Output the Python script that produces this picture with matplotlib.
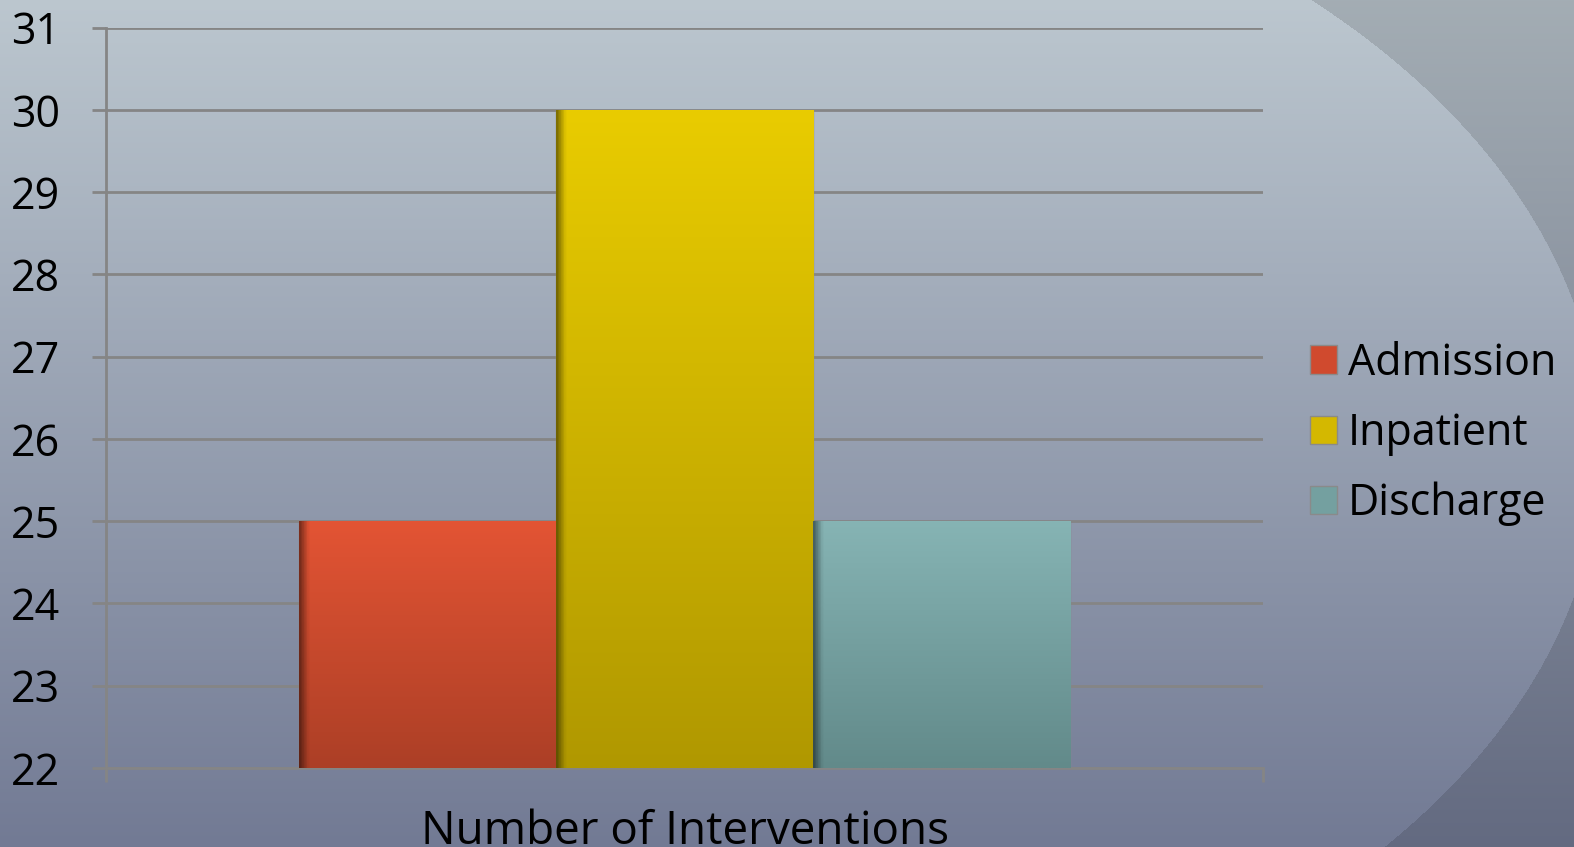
import numpy as np
import matplotlib.pyplot as plt
import matplotlib.colors as mcolors

categories = ['Number of Interventions']
series = ['Admission', 'Inpatient', 'Discharge']
values = [25, 30, 25]
top_colors = ['#e35434', '#e9cc00', '#86b4b4']
bottom_colors = ['#ac3f26', '#b09800', '#628a8a']
mid_colors = ['#d04a2e', '#d4b800', '#74a0a0']

plt.rcParams['font.family'] = ['Open Sans', 'DejaVu Sans']

W, H = 1574, 847
fig = plt.figure(figsize=(W / 100, H / 100), dpi=100)

# background: vertical gradient with a darker area outside a big ellipse
bg = fig.add_axes([0, 0, 1, 1], zorder=0)
yy, xx = np.mgrid[0:H, 0:W]
t = yy / (H - 1)
top = np.array(mcolors.to_rgb('#bcc7cf'))
bot = np.array(mcolors.to_rgb('#727a94'))
img = top[None, None, :] * (1 - t[..., None]) + bot[None, None, :] * t[..., None]
outside = ((xx - 600) / 1000.0) ** 2 + ((yy - 450) / 639.0) ** 2 > 1
img[outside] *= 0.87
bg.imshow(img, aspect='auto', extent=[0, 1, 0, 1])
bg.axis('off')

ax = fig.add_axes([0.0675, 0.0933, 0.735, 0.874], zorder=1)
ax.patch.set_alpha(0)

x = np.arange(len(categories))
width = 0.2222
bars = []
for i, name in enumerate(series):
    b = ax.bar(x + (i - 1) * width, values[i], width, bottom=0,
               color=mid_colors[i], label=name, zorder=2)
    bars.append(b)

ax.set_ylim(22, 31)
ax.set_xlim(-0.5, 0.5)

# gradient fill with a shadow on the left edge
for i, b in enumerate(bars):
    for p in b.patches:
        x0, y0 = p.get_x(), 22
        x1, y1 = p.get_x() + p.get_width(), p.get_height()
        tc = np.array(mcolors.to_rgb(top_colors[i]))
        bc = np.array(mcolors.to_rgb(bottom_colors[i]))
        s = np.linspace(0, 1, 200)[:, None, None]
        grad = tc * (1 - s) + bc * s
        grad = np.repeat(grad, 100, axis=1)
        shade = np.ones(100)
        shade[:4] = np.linspace(0.55, 0.95, 4)
        grad = grad * shade[None, :, None]
        im = ax.imshow(grad, extent=[x0, x1, y0, y1], aspect='auto', zorder=3)
        im.set_clip_path(p)
        p.set_edgecolor('#8a8a8a')
        p.set_linewidth(1)
ax.set_aspect('auto')
ax.set_xlim(-0.5, 0.5)
ax.set_ylim(22, 31)

ax.set_yticks(range(22, 32))
ax.yaxis.grid(True, color='#858585', linewidth=2, zorder=1)
ax.set_axisbelow(True)
for s in ['top', 'right']:
    ax.spines[s].set_visible(False)
for s in ['left', 'bottom']:
    ax.spines[s].set_color('#858585')
    ax.spines[s].set_linewidth(2)
ax.tick_params(axis='y', length=10, width=2, color='#858585', pad=23,
               labelsize=31, labelcolor='black')
ax.set_xticks([-0.5, 0.5])
ax.set_xticklabels([])
ax.tick_params(axis='x', length=10, width=2, color='#858585')
ax.set_xlabel(categories[0], fontsize=33, labelpad=16)

fig.legend(loc='center left', bbox_to_anchor=(0.8075, 0.488), frameon=False,
           fontsize=31, handlelength=0.63, handleheight=0.63,
           handletextpad=0.25, labelspacing=0.6)

fig.savefig('out.png', dpi=100)
